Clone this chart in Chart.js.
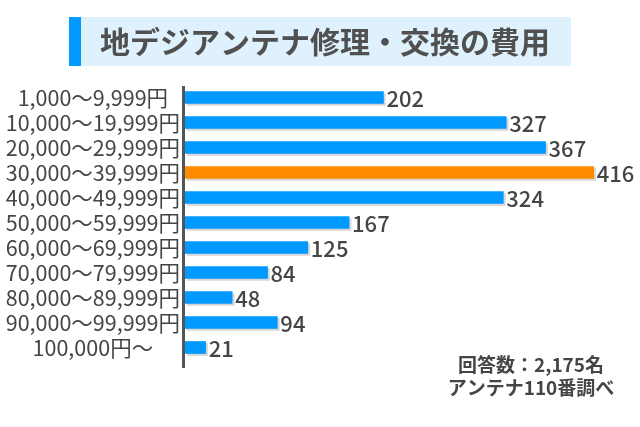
<!DOCTYPE html>
<html>
<head>
<meta charset="utf-8">
<script src="https://cdn.jsdelivr.net/npm/chart.js@4/dist/chart.umd.min.js"></script>
<style>
  html, body { margin: 0; padding: 0; background: #fff; }
  #wrap { width: 640px; height: 427px; position: relative; }
</style>
</head>
<body>
<div id="wrap"><canvas id="chart" width="640" height="427"></canvas></div>
<script>
// price ranges and answer counts
const categories = [
    '1,000～9,999円', '10,000～19,999円', '20,000～29,999円', '30,000～39,999円',
    '40,000～49,999円', '50,000～59,999円', '60,000～69,999円', '70,000～79,999円',
    '80,000～89,999円', '90,000～99,999円', '100,000円～'
];
const counts = [202, 327, 367, 416, 324, 167, 125, 84, 48, 94, 21];
const highlightIndex = 3;
const title = '地デジアンテナ修理・交換の費用';
const notes = ['回答数：2,175名', 'アンテナ110番調べ'];

const FONT = '"Noto Sans CJK JP", "Noto Sans", sans-serif';
const BLUE = '#0099ff';
const ORANGE = '#ff8c00';
const TEXT = '#454545';

// title box, value labels, axis line and notes
const decor = {
    id: 'decor',
    beforeDatasetsDraw(chart) {
        const ctx = chart.ctx;
        ctx.save();
        ctx.shadowColor = '#d6d6d6';
        ctx.shadowOffsetX = 2;
        ctx.shadowOffsetY = 2;
        ctx.shadowBlur = 0;
    },
    afterDatasetsDraw(chart) {
        const ctx = chart.ctx;
        ctx.restore();
        const meta = chart.getDatasetMeta(0);
        ctx.save();
        ctx.fillStyle = TEXT;
        ctx.font = '500 22px ' + FONT;
        ctx.textAlign = 'left';
        ctx.textBaseline = 'middle';
        meta.data.forEach((bar, i) => {
            ctx.fillText(String(counts[i]), bar.x + 3, bar.y + 1);
        });
        ctx.restore();
    },
    afterDraw(chart) {
        const ctx = chart.ctx;
        const area = chart.chartArea;
        ctx.save();
        // title
        ctx.fillStyle = '#dff1fc';
        ctx.fillRect(69, 17, 502, 49);
        ctx.fillStyle = BLUE;
        ctx.fillRect(69, 17, 12, 49);
        ctx.fillStyle = '#505050';
        ctx.font = 'bold 30px ' + FONT;
        ctx.textAlign = 'center';
        ctx.textBaseline = 'middle';
        ctx.fillText(title, 325, 42);
        // axis line
        ctx.strokeStyle = '#555';
        ctx.lineWidth = 3;
        ctx.beginPath();
        ctx.moveTo(area.left - 1.5, area.top + 1);
        ctx.lineTo(area.left - 1.5, area.bottom + 8);
        ctx.stroke();
        // notes
        ctx.fillStyle = TEXT;
        ctx.font = 'bold 19px ' + FONT;
        ctx.fillText(notes[0], 531, 365);
        ctx.fillText(notes[1], 531, 388);
        ctx.restore();
    }
};

new Chart(document.getElementById('chart').getContext('2d'), {
    type: 'bar',
    data: {
        labels: categories,
        datasets: [{
            data: counts,
            backgroundColor: counts.map((v, i) => i === highlightIndex ? ORANGE : BLUE),
            barThickness: 12,
            borderWidth: 0
        }]
    },
    options: {
        indexAxis: 'y',
        responsive: false,
        animation: false,
        layout: { padding: { top: 85, bottom: 67, left: 0, right: 8 } },
        plugins: {
            legend: { display: false },
            tooltip: { enabled: false }
        },
        scales: {
            x: {
                display: false,
                min: 0,
                max: 455
            },
            y: {
                grid: { display: false, drawTicks: false },
                border: { display: false },
                afterFit(scale) { scale.width = 185; },
                ticks: {
                    autoSkip: false,
                    crossAlign: 'center',
                    padding: 5,
                    color: TEXT,
                    font: { family: FONT, size: 21.5 }
                }
            }
        }
    },
    plugins: [decor]
});
</script>
</body>
</html>
